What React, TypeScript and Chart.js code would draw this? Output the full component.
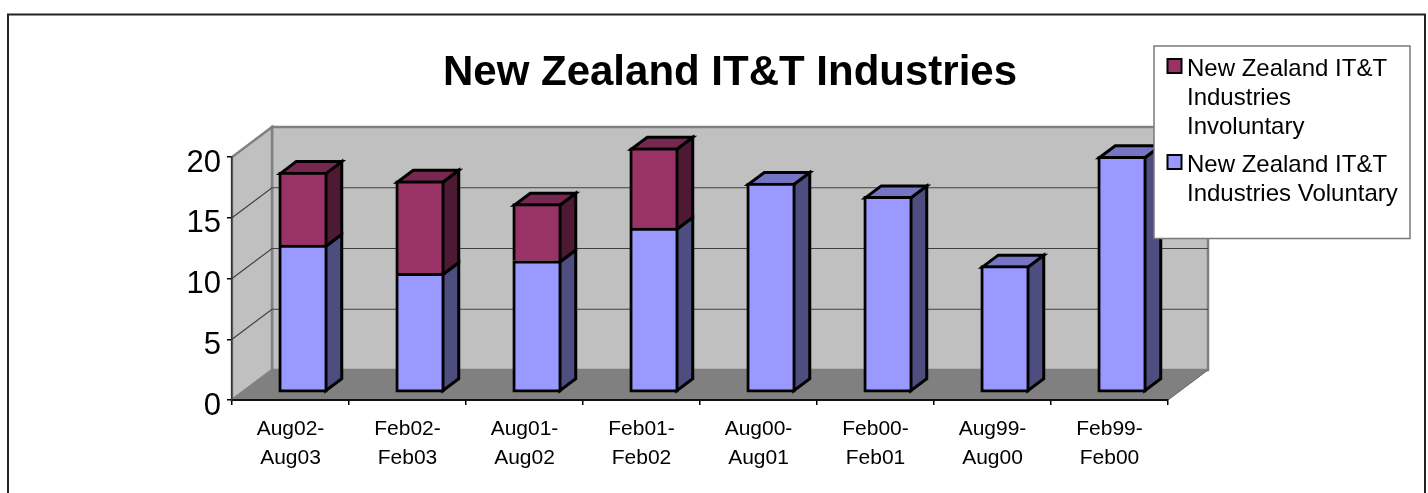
import React, { useEffect, useRef } from "react";
import { Chart, registerables } from "chart.js";

Chart.register(...registerables);

const categories = [
  ["Aug02-", "Aug03"],
  ["Feb02-", "Feb03"],
  ["Aug01-", "Aug02"],
  ["Feb01-", "Feb02"],
  ["Aug00-", "Aug01"],
  ["Feb00-", "Feb01"],
  ["Aug99-", "Aug00"],
  ["Feb99-", "Feb00"],
];
const voluntary = [12.18, 9.85, 10.88, 13.58, 17.28, 16.18, 10.48, 19.48];
const involuntary = [6.0, 7.62, 4.7, 6.6, null, null, null, null];
const titleText = "New Zealand IT&T Industries";
const involuntaryLines = ["New Zealand IT&T", "Industries", "Involuntary"];
const voluntaryLines = ["New Zealand IT&T", "Industries Voluntary"];

const FONT = "'Liberation Sans', Arial, sans-serif";
const WALL_DEPTH = { x: 40, y: -30 };
const BAR_OFFSET = { x: 12.5, y: -7 };
const BAR_DEPTH = { x: 16, y: -12 };
const BAR_BORDER = 3;

const COLORS = [
  { front: "#9999FF", side: "#4D4D80", top: "#7575C4" },
  { front: "#993366", side: "#4D1933", top: "#772850" },
];

function poly(ctx: CanvasRenderingContext2D, pts: number[][]) {
  ctx.beginPath();
  pts.forEach((p, i) => (i ? ctx.lineTo(p[0], p[1]) : ctx.moveTo(p[0], p[1])));
  ctx.closePath();
}

const frame3d = {
  id: "frame3d",
  beforeDraw(chart: any) {
    const { ctx, width, height } = chart;
    const x = chart.scales.x;
    const y = chart.scales.y;
    const L = x.left;
    const R = x.right;
    const y0 = y.getPixelForValue(0);
    const yT = y.getPixelForValue(20);
    const dx = WALL_DEPTH.x;
    const dy = WALL_DEPTH.y;
    ctx.save();
    ctx.fillStyle = "#FFFFFF";
    ctx.fillRect(0, 0, width, height);

    ctx.strokeStyle = "#222222";
    ctx.lineWidth = 2;
    ctx.beginPath();
    ctx.moveTo(8, height);
    ctx.lineTo(8, 14.5);
    ctx.lineTo(1425, 14.5);
    ctx.lineTo(1425, height);
    ctx.stroke();

    ctx.fillStyle = "#C0C0C0";
    ctx.strokeStyle = "#808080";
    ctx.lineWidth = 2.5;
    poly(ctx, [[L + dx, yT + dy], [R + dx, yT + dy], [R + dx, y0 + dy], [L + dx, y0 + dy]]);
    ctx.fill();
    ctx.stroke();
    poly(ctx, [[L, y0], [L + dx, y0 + dy], [L + dx, yT + dy], [L, yT]]);
    ctx.fill();
    ctx.stroke();

    ctx.fillStyle = "#808080";
    poly(ctx, [[L, y0], [L + dx, y0 + dy], [R + dx, y0 + dy], [R, y0]]);
    ctx.fill();
    ctx.lineWidth = 1;
    ctx.strokeStyle = "#666666";
    ctx.beginPath();
    ctx.moveTo(R, y0);
    ctx.lineTo(R + dx, y0 + dy);
    ctx.stroke();

    ctx.strokeStyle = "#404040";
    ctx.lineWidth = 1.2;
    y.ticks.forEach((t: any) => {
      if (t.value <= 0 || t.value >= 20) return;
      const py = y.getPixelForValue(t.value);
      ctx.beginPath();
      ctx.moveTo(L, py);
      ctx.lineTo(L + dx, py + dy);
      ctx.lineTo(R + dx, py + dy);
      ctx.stroke();
    });
    ctx.restore();
  },
  beforeDatasetDraw(chart: any, args: any) {
    const { ctx } = chart;
    ctx.save();
    ctx.translate(BAR_OFFSET.x, BAR_OFFSET.y);
    const c = COLORS[args.index];
    const b = BAR_BORDER / 2;
    const own = chart.data.datasets[args.index].data;
    const upper = chart.data.datasets[args.index + 1]?.data;
    ctx.lineWidth = BAR_BORDER;
    ctx.strokeStyle = "#000000";
    ctx.lineJoin = "miter";
    args.meta.data.forEach((el: any, i: number) => {
      if (own[i] == null) return;
      const { x, y, base, width } = el.getProps(["x", "y", "base", "width"], true);
      const l = x - width / 2 + b;
      const r = x + width / 2 - b;
      const t = y + b;
      const bt = args.index > 0 ? base + b : base - b;
      const ox = BAR_DEPTH.x;
      const oy = BAR_DEPTH.y;
      ctx.fillStyle = c.side;
      poly(ctx, [[r, t], [r + ox, t + oy], [r + ox, bt + oy], [r, bt]]);
      ctx.fill();
      ctx.stroke();
      if (!upper || upper[i] == null) {
        ctx.fillStyle = c.top;
        poly(ctx, [[l, t], [l + ox, t + oy], [r + ox, t + oy], [r, t]]);
        ctx.fill();
        ctx.stroke();
      }
    });
  },
  afterDatasetDraw(chart: any) {
    chart.ctx.restore();
  },
  afterLayout(chart: any) {
    if (chart.titleBlock) {
      chart.titleBlock.left += 146;
      chart.titleBlock.right += 146;
    }
  },
  afterDatasetsDraw(chart: any) {
    const { ctx } = chart;
    ctx.save();
    ctx.fillStyle = "#FFFFFF";
    ctx.strokeStyle = "#7A7A7A";
    ctx.lineWidth = 1.5;
    ctx.fillRect(1154, 46, 256, 192.5);
    ctx.strokeRect(1154, 46, 256, 192.5);

    const swatch = (sy: number, color: string) => {
      ctx.fillStyle = color;
      ctx.strokeStyle = "#000000";
      ctx.lineWidth = 2;
      ctx.fillRect(1167.5, sy, 14, 14);
      ctx.strokeRect(1167.5, sy, 14, 14);
    };
    swatch(59, COLORS[1].front);
    swatch(155, COLORS[0].front);

    ctx.fillStyle = "#000000";
    ctx.font = `24px ${FONT}`;
    ctx.textBaseline = "middle";
    ctx.textAlign = "left";
    involuntaryLines.forEach((s, i) => ctx.fillText(s, 1187, 69.5 + i * 29));
    voluntaryLines.forEach((s, i) => ctx.fillText(s, 1187, 165.5 + i * 29));
    ctx.restore();
  },
};

export default function App() {
  const ref = useRef<HTMLCanvasElement | null>(null);
  useEffect(() => {
    document.body.style.margin = "0";
    const chart = new Chart(ref.current as HTMLCanvasElement, {
      type: "bar",
      data: {
        labels: categories,
        datasets: [
          {
            label: voluntaryLines.join(" "),
            data: voluntary,
            backgroundColor: COLORS[0].front,
            borderColor: "#000000",
            borderWidth: BAR_BORDER,
            borderSkipped: false,
            clip: false,
          },
          {
            label: involuntaryLines.join(" "),
            data: involuntary,
            backgroundColor: COLORS[1].front,
            borderColor: "#000000",
            borderWidth: BAR_BORDER,
            borderSkipped: "bottom",
            clip: false,
          },
        ],
      } as any,
      options: {
        responsive: false,
        animation: false,
        layout: { padding: { left: 0, right: 260, top: 0, bottom: 0 } },
        datasets: { bar: { barThickness: 48.5 } },
        plugins: {
          legend: { display: false },
          tooltip: { enabled: false },
          title: {
            display: true,
            text: titleText,
            color: "#000000",
            font: { family: FONT, size: 42, weight: "bold", lineHeight: 1.2 },
            padding: { top: 47.8, bottom: 58.8 },
          },
        },
        scales: {
          x: {
            stacked: true,
            afterFit: (s: any) => {
              s.height = 93;
            },
            grid: { offset: true, drawOnChartArea: false, drawTicks: true, tickLength: 5, color: "#000000", lineWidth: 1.5 },
            border: { color: "#111111", width: 2 },
            ticks: {
              color: "#000000",
              font: { family: FONT, size: 21, lineHeight: 1.38 },
              maxRotation: 0,
              autoSkip: false,
              padding: 10,
            },
          },
          y: {
            stacked: true,
            min: 0,
            max: 20,
            afterFit: (s: any) => {
              s.width = 232;
            },
            grid: { drawOnChartArea: false, drawTicks: true, tickLength: 5, color: "#000000", lineWidth: 1.5 },
            border: { color: "#333333", width: 1.5 },
            ticks: {
              stepSize: 5,
              color: "#000000",
              font: { family: FONT, size: 31 },
              padding: 6,
              labelOffset: 6,
            },
          },
        },
      },
      plugins: [frame3d],
    } as any);
    return () => chart.destroy();
  }, []);
  return (
    <div style={{ position: "fixed", left: 0, top: 0 }}>
      <canvas ref={ref} width={1428} height={493} style={{ display: "block" }} />
    </div>
  );
}
